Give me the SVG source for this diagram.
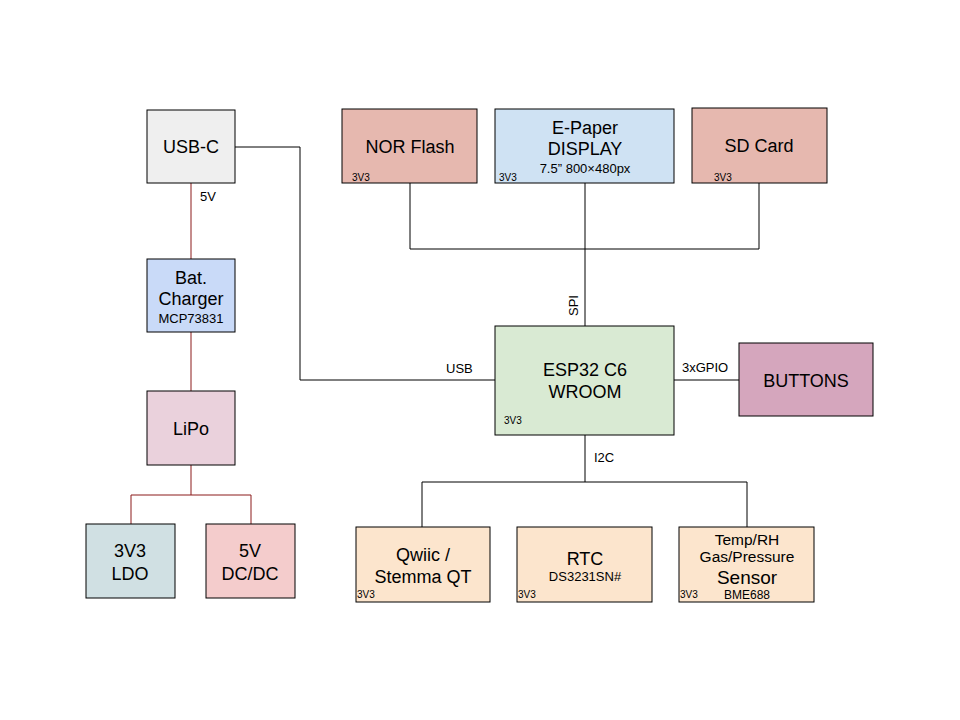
<svg xmlns="http://www.w3.org/2000/svg" width="960" height="720" viewBox="0 0 960 720">
<style>
.box{stroke:#000;stroke-width:1}
text{font-family:"Liberation Sans",Arial,sans-serif;fill:#000}
.t{font-size:18px;text-anchor:middle}
.s{font-size:13px;text-anchor:middle}
.m{font-size:15.5px;text-anchor:middle}
.v{font-size:10px}
.l{font-size:13px}
.k{fill:none;stroke:#000;stroke-width:1}
.r{fill:none;stroke:#8b1a1a;stroke-width:1}
</style>
<rect width="960" height="720" fill="#fff"/>
<g id="connectors">
<path class="k" d="M235,147H300V380H495"/>
<path class="r" d="M191,183V259"/>
<path class="r" d="M191,332V391"/>
<path class="r" d="M191,465V495M131,524V495H251V524"/>
<path class="k" d="M410,183V249H759V183M585,183V326"/>
<path class="k" d="M674,380H739"/>
<path class="k" d="M585,435V482M422,527V482H747V527"/>
<text class="l" x="200" y="201">5V</text>
<text class="l" x="446" y="373">USB</text>
<text class="l" x="682" y="372">3xGPIO</text>
<text class="l" x="594" y="462">I2C</text>
<text class="l" transform="translate(578,316) rotate(-90)">SPI</text>
</g>
<g id="usbc"><rect class="box" x="147" y="110" width="88" height="73" fill="#efefef"/><text class="t" x="191" y="153">USB-C</text></g>
<g id="charger"><rect class="box" x="147" y="259" width="88" height="73" fill="#c9daf8"/><text class="t" x="191" y="284">Bat.</text><text class="t" x="191" y="305">Charger</text><text class="s" x="191" y="323">MCP73831</text></g>
<g id="lipo"><rect class="box" x="147" y="391" width="88" height="74" fill="#ead1dc"/><text class="t" x="191" y="435">LiPo</text></g>
<g id="ldo"><rect class="box" x="86" y="524" width="89" height="74" fill="#d0e0e3"/><text class="t" x="130" y="557">3V3</text><text class="t" x="130" y="580">LDO</text></g>
<g id="dcdc"><rect class="box" x="206" y="524" width="89" height="74" fill="#f4cccc"/><text class="t" x="250" y="557">5V</text><text class="t" x="250" y="580">DC/DC</text></g>
<g id="norflash"><rect class="box" x="342" y="109" width="135" height="74" fill="#e6b8af"/><text class="t" x="410" y="153">NOR Flash</text><text class="v" x="352" y="181">3V3</text></g>
<g id="epaper"><rect class="box" x="495" y="109" width="179" height="74" fill="#cfe2f3"/><text class="t" x="585" y="134">E-Paper</text><text class="t" x="585" y="155">DISPLAY</text><text class="s" x="585" y="173">7.5” 800×480px</text><text class="v" x="499" y="181">3V3</text></g>
<g id="sdcard"><rect class="box" x="692" y="108" width="135" height="75" fill="#e6b8af"/><text class="t" x="759" y="152">SD Card</text><text class="v" x="714" y="181">3V3</text></g>
<g id="esp32"><rect class="box" x="495" y="326" width="179" height="109" fill="#d9ead3"/><text class="t" x="585" y="376">ESP32 C6</text><text class="t" x="585" y="398">WROOM</text><text class="v" x="504" y="424">3V3</text></g>
<g id="buttons"><rect class="box" x="739" y="343" width="134" height="73" fill="#d5a6bd"/><text class="t" x="806" y="387">BUTTONS</text></g>
<g id="qwiic"><rect class="box" x="356" y="527" width="134" height="75" fill="#fce5cd"/><text class="t" x="423" y="561">Qwiic /</text><text class="t" x="423" y="583">Stemma QT</text><text class="v" x="357" y="598">3V3</text></g>
<g id="rtc"><rect class="box" x="517" y="527" width="135" height="75" fill="#fce5cd"/><text class="t" x="585" y="565">RTC</text><text class="s" x="585" y="581">DS3231SN#</text><text class="v" x="518" y="598">3V3</text></g>
<g id="sensor"><rect class="box" x="679" y="527" width="135" height="75" fill="#fce5cd"/><text class="m" x="747" y="545">Temp/RH</text><text class="m" x="747" y="562">Gas/Pressure</text><text class="t" x="747" y="584" style="font-size:19px">Sensor</text><text class="v" x="680" y="598">3V3</text><text class="s" x="747" y="599" style="font-size:12px">BME688</text></g>
</svg>
